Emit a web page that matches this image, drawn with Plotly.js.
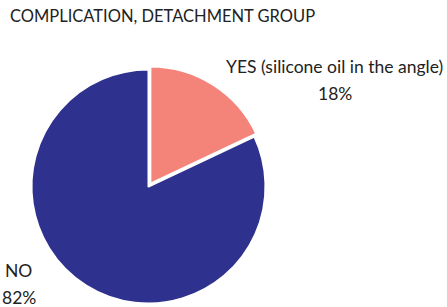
<!DOCTYPE html>
<html>
<head>
<meta charset="utf-8">
<script src="https://cdn.plot.ly/plotly-3.0.1.min.js"></script>
<style>html,body{margin:0;padding:0;background:#fff;overflow:hidden}#chart{width:447px;height:307px}</style>
</head>
<body>
<div id="chart"></div>
<script>
const chartTitle = "COMPLICATION, DETACHMENT GROUP";
const categories = ["YES (silicone oil in the angle)", "NO"];
const values = [18, 82];
const pulls = [0.03, 0];
const colors = ["#F4837A", "#2E318D"];

const total = values.reduce((a, b) => a + b, 0);
const pct = values.map(v => Math.round(v / total * 100) + "%");

const font = "Lato, 'Open Sans', sans-serif";

const trace = {
  type: "pie",
  labels: categories,
  values: values,
  sort: false,
  direction: "clockwise",
  rotation: 0,
  pull: pulls,
  textinfo: "none",
  hoverinfo: "label+percent",
  marker: { colors: colors, line: { color: "#ffffff", width: 2 } },
  domain: { x: [0.0626, 0.6018], y: [0, 0.785] },
  showlegend: false
};

const layout = {
  width: 447,
  height: 307,
  margin: { l: 0, r: 0, t: 0, b: 0 },
  paper_bgcolor: "#ffffff",
  plot_bgcolor: "#ffffff",
  font: { family: font, color: "#222222", size: 14 },
  title: {
    text: chartTitle,
    x: 10 / 447, xanchor: "left",
    y: 1 - 16 / 307, yanchor: "middle",
    font: { family: font, size: 16.5, color: "#222222" }
  },
  annotations: [
    { text: categories[0], x: 334.5 / 447, y: 1 - 66 / 307 },
    { text: pct[0], x: 335 / 447, y: 1 - 93 / 307 },
    { text: categories[1], x: 18 / 447, y: 1 - 270 / 307 },
    { text: pct[1], x: 19 / 447, y: 1 - 297 / 307 }
  ].map(a => Object.assign({
    xref: "paper", yref: "paper", xanchor: "center", yanchor: "middle",
    showarrow: false, font: { family: font, size: 17.5, color: "#222222" }
  }, a))
};

Plotly.newPlot("chart", [trace], layout, { displayModeBar: false, staticPlot: true });
</script>
</body>
</html>
